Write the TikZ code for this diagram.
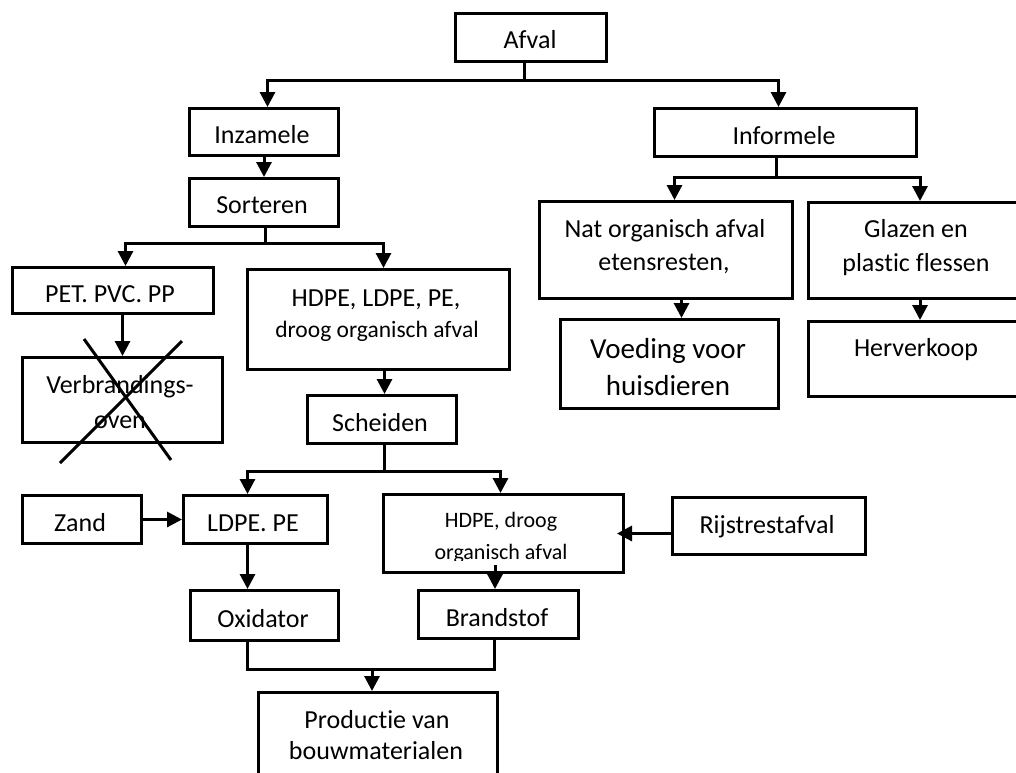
\documentclass[tikz,border=0pt]{standalone}
\usepackage{fontspec}
\setmainfont{Carlito}[Ligatures={NoCommon}]
\usetikzlibrary{arrows.meta}
\tikzset{
  box/.style={draw, line width=3pt, inner sep=0pt, anchor=north west},
  ln/.style={line width=3pt},
  arr/.style={line width=3pt, -{Triangle[length=15pt,width=15pt]}},
  txt/.style={inner sep=0pt, anchor=base, font=\fontsize{26}{31}\selectfont},
  stxt/.style={inner sep=0pt, anchor=base, font=\fontsize{23.5}{28}\selectfont},
  htxt/.style={inner sep=0pt, anchor=base, font=\fontsize{22}{26}\selectfont},
  btxt/.style={inner sep=0pt, anchor=base, font=\fontsize{29}{34}\selectfont},
}
\newcommand\bx[5]{\node[box, minimum width={(#4-#2)*1pt}, minimum height={(#5-#3)*1pt}] (#1) at (#2,-#3) {};}
\begin{document}
\begin{tikzpicture}[x=1pt,y=1pt]
\useasboundingbox (0,0) rectangle (1016,-772);
% boxes
\bx{afval}{454}{12}{605}{60}
\bx{inzamele}{188}{107}{337}{154}
\bx{sorteren}{188}{177}{337}{225}
\bx{informele}{653}{107}{915}{155}
\bx{nat}{538}{200}{791}{297}
\bx{glazen}{807}{201}{1030}{297}
\bx{voeding}{559}{318}{777}{407}
\bx{herverkoop}{807}{320}{1030}{395}
\bx{pet}{11}{266}{212}{312}
\bx{verbr}{21}{356}{221}{441}
\bx{hdpea}{246}{268}{508}{368}
\bx{scheiden}{306}{394}{455}{442}
\bx{zand}{21}{494}{140}{542}
\bx{ldpe}{182}{494}{326}{542}
\bx{hdpeb}{382}{493}{622}{571}
\bx{rijst}{671}{496}{864}{553}
\bx{oxidator}{189}{589}{337}{639}
\bx{brandstof}{417}{589}{577}{637}
\bx{productie}{257}{691}{496}{800}
% texts
\node[txt] (tafval) at (530,-48) {Afval};
\node[txt] (tinzamele) at (262,-143) {Inzamele};
\node[txt] (tsorteren) at (262,-213) {Sorteren};
\node[txt] (tinformele) at (784,-144) {Informele};
\node[txt] (tnat1) at (665,-237) {Nat organisch afval};
\node[txt] (tnat2) at (664,-270) {etensresten,};
\node[txt] (tgl1) at (916,-237) {Glazen en};
\node[txt] (tgl2) at (916,-271) {plastic flessen};
\node[btxt] (tvo1) at (668,-358) {Voeding voor};
\node[btxt] (tvo2) at (668,-395) {huisdieren};
\node[txt] (therv) at (916,-356) {Herverkoop};
\node[txt] (tpet) at (110,-302) {PET. PVC. PP};
\node[txt] (tverb1) at (120,-393) {Verbrandings-};
\node[txt] (tverb2) at (120,-428) {oven};
\node[txt] (thd1) at (376,-306) {HDPE, LDPE, PE,};
\node[stxt] (thd2) at (377,-337) {droog organisch afval};
\node[txt] (tsch) at (380,-431) {Scheiden};
\node[txt] (tzand) at (80,-531) {Zand};
\node[txt] (tldpe) at (253,-531) {LDPE. PE};
\node[htxt] (thb1) at (501,-527) {HDPE, droog};
\begin{scope}
\clip (382,-493) rectangle (622,-560);
\node[htxt] (thb2) at (501,-559) {organisch afval};
\end{scope}
\node[txt] (trijst) at (767,-533) {Rijstrestafval};
\node[txt] (toxi) at (263,-627) {Oxidator};
\node[txt] (tbrand) at (497,-626) {Brandstof};
\node[txt] (tpr1) at (377,-728) {Productie van};
\node[txt] (tpr2) at (376,-759) {bouwmaterialen};
% connectors
\coordinate (j1) at (524,-80);
\draw[ln] (afval.south -| j1) -- (j1);
\draw[arr] (j1) -| ([xshift=3.5pt]inzamele.north);
\draw[arr] (j1) -| ([xshift=-7pt]informele.north);
\draw[arr] (inzamele.south) -- (sorteren.north);
\coordinate (j2) at (265,-243);
\draw[ln] (sorteren.south -| j2) -- (j2);
\draw[arr] (j2) -| ([xshift=12.5pt]pet.north);
\draw[arr] (j2) -| ([xshift=5pt]hdpea.north);
\coordinate (j3) at (776,-177);
\draw[ln] (informele.south -| j3) -- (j3);
\draw[arr] (j3) -| ([xshift=8.5pt]nat.north);
\draw[arr] (j3) -| (glazen.north -| herverkoop.north);
\draw[arr] ([xshift=15.5pt]nat.south) -- ([xshift=15.5pt]nat.south |- voeding.north);
\draw[arr] (glazen.south -| herverkoop.north) -- (herverkoop.north);
\draw[arr] (pet.south -| verbr.north) -- (verbr.north);
\draw[arr] ([xshift=6pt]hdpea.south) -- ([xshift=6pt]hdpea.south |- scheiden.north);
\coordinate (j4) at (384,-471);
\draw[ln] (scheiden.south -| j4) -- (j4);
\draw[arr] (j4) -| ([xshift=-8pt]ldpe.north);
\draw[arr] (j4) -| ([xshift=-3pt]hdpeb.north);
\draw[arr] (zand.east) -- (zand.east -| ldpe.west);
\draw[arr] (rijst.west |- hdpeb.east) -- ([xshift=-8pt]hdpeb.east);
\draw[arr] ([xshift=-8pt]ldpe.south) -- ([xshift=-8pt]ldpe.south |- oxidator.north);
\draw[arr] (495,-565) -- (brandstof.north -| 495,0);
\coordinate (j5) at (372,-669);
\draw[ln] ([xshift=-17pt]oxidator.south) |- (j5) -| ([xshift=-4pt]brandstof.south);
\draw[arr] (j5) -- (j5 |- productie.north);
% cross
\draw[ln] (84,-339) -- (171,-460);
\draw[ln] (182,-341) -- (60,-463);
\end{tikzpicture}
\end{document}
